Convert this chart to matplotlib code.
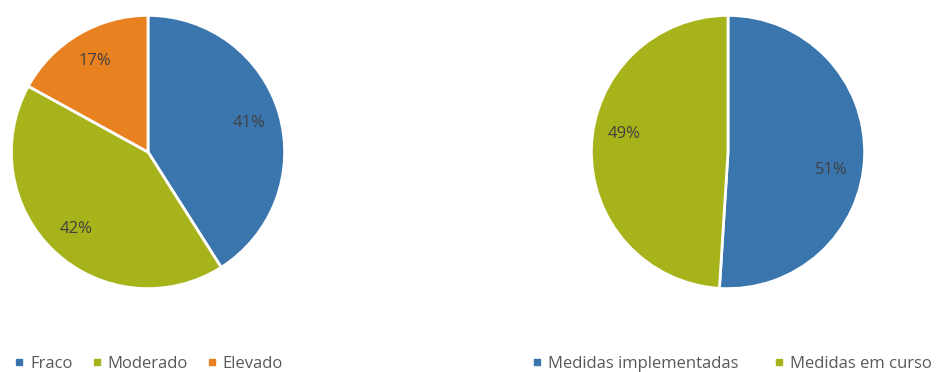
import numpy as np
import matplotlib.pyplot as plt
from matplotlib.lines import Line2D

plt.rcParams['font.family'] = ['Open Sans', 'DejaVu Sans']

risk_labels = ['Fraco', 'Moderado', 'Elevado']
risk_values = [41, 42, 17]
risk_colors = ['#3a76ad', '#a7b31a', '#e8811f']

measure_labels = ['Medidas implementadas', 'Medidas em curso']
measure_values = [51, 49]
measure_colors = ['#3a76ad', '#a7b31a']

W, H = 938, 372
fig = plt.figure(figsize=(W / 100, H / 100), dpi=100)


def pie_axes(cx, cy, r):
    return fig.add_axes([(cx - r) / W, (H - cy - r) / H, 2 * r / W, 2 * r / H])


def draw_pie(ax, values, colors, label_turn=0):
    wedges, _, autotexts = ax.pie(
        values, colors=colors, startangle=90, counterclock=False,
        autopct='%d%%', pctdistance=0.77,
        wedgeprops=dict(edgecolor='white', linewidth=2),
        textprops=dict(color='#404040', fontsize=12))
    # nudge the percentage labels around the centre
    if label_turn:
        a = np.deg2rad(label_turn)
        for t in autotexts:
            x, y = t.get_position()
            t.set_position((x * np.cos(a) - y * np.sin(a), x * np.sin(a) + y * np.cos(a)))
    ax.set_xlim(-1.01, 1.01)
    ax.set_ylim(-1.01, 1.01)
    ax.set_aspect('equal')


draw_pie(pie_axes(148, 152, 138), risk_values, risk_colors)
draw_pie(pie_axes(728, 152, 138), measure_values, measure_colors, label_turn=-8)


def legend(labels, colors, x, spacing):
    handles = [Line2D([], [], marker='s', linestyle='none', markersize=5,
                      markerfacecolor=c, markeredgecolor=c) for c in colors]
    fig.legend(handles, labels, loc='center left', bbox_to_anchor=(x / W, 1 - 363.5 / H),
               ncol=len(labels), frameon=False, fontsize=12, labelcolor='#595959',
               handlelength=0.5, handletextpad=0.4, columnspacing=spacing,
               borderaxespad=0, borderpad=0)


legend(risk_labels, risk_colors, 15, 1.2)
legend(measure_labels, measure_colors, 533, 2.2)

fig.savefig('out.png', dpi=100, facecolor='white')
